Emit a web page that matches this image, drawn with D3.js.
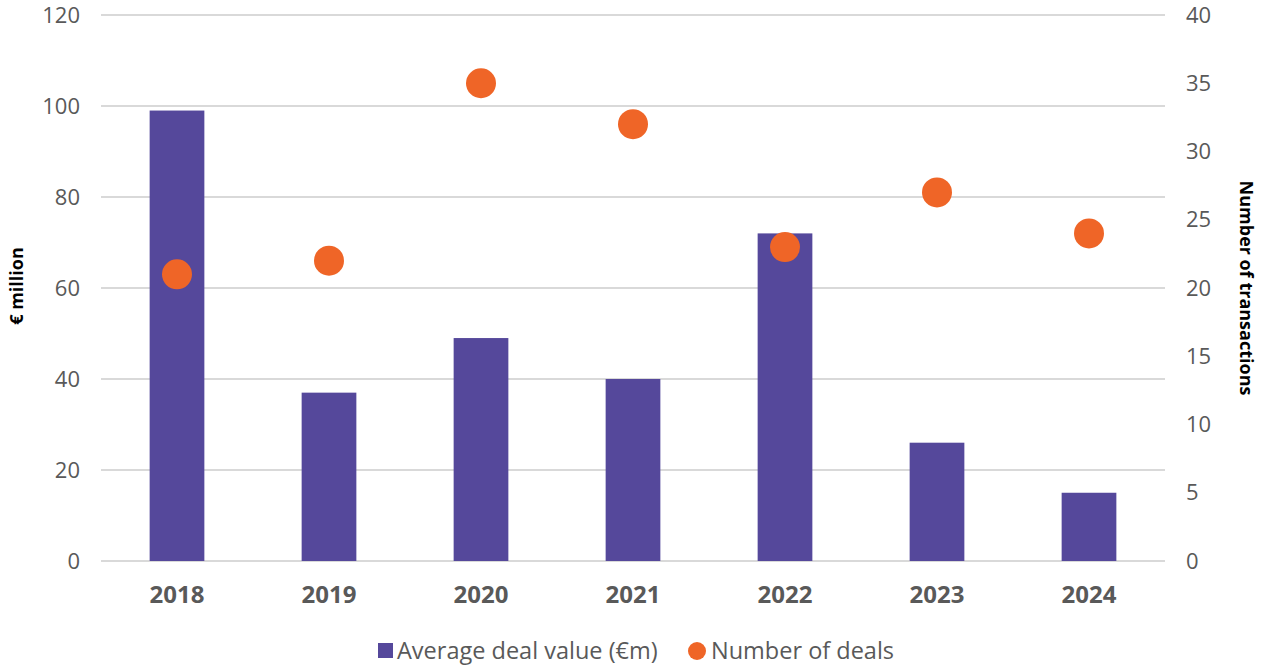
<!DOCTYPE html>
<html><head><meta charset="utf-8">
<script src="https://cdn.jsdelivr.net/npm/d3@7"></script>
<style>body{margin:0;background:#fff;}svg{display:block;font-family:"Open Sans",sans-serif;}</style>
</head><body>
<svg id="c" width="1265" height="668"></svg>
<script>
const years = ["2018","2019","2020","2021","2022","2023","2024"];
const avgDealValue = [99, 37, 49, 40, 72, 26, 15];
const numDeals = [21, 22, 35, 32, 23, 27, 24];
const leftTicks = [0, 20, 40, 60, 80, 100, 120];
const rightTicks = [0, 5, 10, 15, 20, 25, 30, 35, 40];

const svg = d3.select("#c");
const L = 101, R = 1165, T = 15, B = 561;
const x = d3.scaleBand().domain(years).range([L, R]).paddingInner(0.64).paddingOuter(0.32);
const yL = d3.scaleLinear().domain([0, 120]).range([B, T]);
const yR = d3.scaleLinear().domain([0, 40]).range([B, T]);
const grey = "#595959";

// grid
svg.append("g").selectAll("line").data(leftTicks).join("line")
  .attr("x1", L).attr("x2", R)
  .attr("y1", d => yL(d)).attr("y2", d => yL(d))
  .attr("stroke", "#d9d9d9").attr("stroke-width", 2);

// left axis
const la = svg.append("g").attr("transform", `translate(${L - 21},0)`)
  .call(d3.axisLeft(yL).tickValues(leftTicks).tickSize(0).tickPadding(0));
la.select(".domain").remove();
la.selectAll("text").attr("font-size", 22).attr("fill", grey).attr("font-family", "Open Sans");

// right axis
const ra = svg.append("g").attr("transform", `translate(${R + 21},0)`)
  .call(d3.axisRight(yR).tickValues(rightTicks).tickSize(0).tickPadding(0));
ra.select(".domain").remove();
ra.selectAll("text").attr("font-size", 22).attr("fill", grey).attr("font-family", "Open Sans");

// x axis
const xa = svg.append("g").attr("transform", `translate(0,${B + 25})`)
  .call(d3.axisBottom(x).tickSize(0).tickPadding(0));
xa.select(".domain").remove();
xa.selectAll("text").attr("font-size", 24).attr("font-weight", "bold").attr("fill", grey)
  .attr("font-family", "Open Sans").attr("dy", "0.71em");

// bars
svg.append("g").selectAll("rect").data(years).join("rect")
  .attr("x", d => x(d)).attr("width", x.bandwidth())
  .attr("y", (d, i) => yL(avgDealValue[i]))
  .attr("height", (d, i) => yL(0) - yL(avgDealValue[i]))
  .attr("fill", "#55489b");

// dots
svg.append("g").selectAll("circle").data(years).join("circle")
  .attr("cx", d => x(d) + x.bandwidth() / 2)
  .attr("cy", (d, i) => yR(numDeals[i]))
  .attr("r", 15).attr("fill", "#ef6527");

// axis titles
svg.append("text").attr("transform", `translate(23,286) rotate(-90)`)
  .attr("text-anchor", "middle").attr("font-size", 18).attr("font-weight", "bold")
  .attr("fill", "#000").text("€ million");
svg.append("text").attr("transform", `translate(1240,288) rotate(90)`)
  .attr("text-anchor", "middle").attr("font-size", 18).attr("font-weight", "bold")
  .attr("fill", "#000").text("Number of transactions");

// legend
const lg = svg.append("g");
lg.append("rect").attr("x", 378).attr("y", 643).attr("width", 15).attr("height", 15).attr("fill", "#55489b");
lg.append("text").attr("x", 397).attr("y", 659).attr("font-size", 23.5).attr("fill", grey).text("Average deal value (€m)");
lg.append("circle").attr("cx", 697).attr("cy", 651).attr("r", 9).attr("fill", "#ef6527");
lg.append("text").attr("x", 711).attr("y", 659).attr("font-size", 23.5).attr("fill", grey).text("Number of deals");
</script>
</body></html>
